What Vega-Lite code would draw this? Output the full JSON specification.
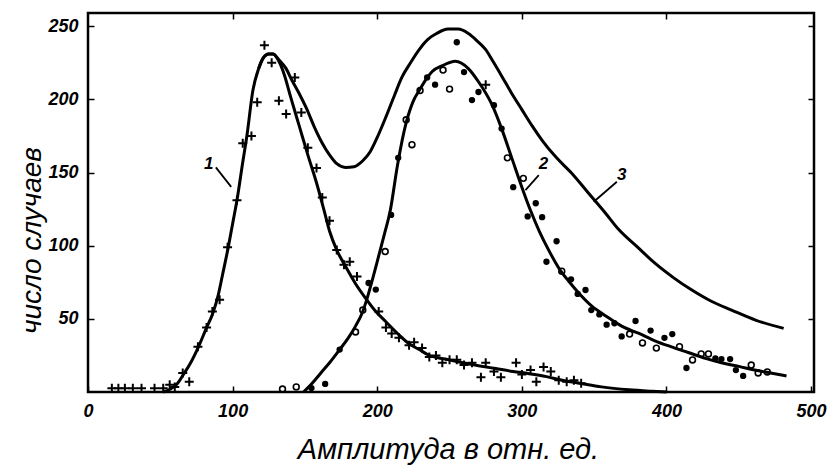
{
  "$schema": "https://vega.github.io/schema/vega-lite/v6.json",
  "width": 726,
  "height": 379,
  "autosize": {"type": "none"},
  "padding": {"left": 88, "top": 13, "right": 13, "bottom": 79},
  "background": "white",
  "config": {
    "view": {"stroke": "black", "strokeWidth": 2.5},
    "axis": {
      "domain": false, "grid": false,
      "tickColor": "black", "tickWidth": 1.5, "tickSize": -6,
      "labelColor": "black", "labelFont": "Liberation Sans", "labelFontSize": 18,
      "labelFontStyle": "italic", "labelFontWeight": "bold",
      "labelFlush": false, "labelOverlap": false,
      "titleColor": "black", "titleFont": "Liberation Sans", "titleFontStyle": "italic",
      "titleFontWeight": "normal", "titleFontSize": 29
    },
    "axisTop": {"labels": false},
    "axisRight": {"labels": false}
  },
  "datasets": {
    "curves": [
      {"s":"1","x":52,"y":0},{"s":"1","x":57,"y":2},{"s":"1","x":62,"y":6},{"s":"1","x":66,"y":12},{"s":"1","x":71,"y":20},{"s":"1","x":76,"y":30},{"s":"1","x":82,"y":44},{"s":"1","x":86,"y":53},{"s":"1","x":90,"y":66},{"s":"1","x":93,"y":80},{"s":"1","x":97,"y":99},{"s":"1","x":100,"y":115},{"s":"1","x":103,"y":131},{"s":"1","x":107,"y":157},{"s":"1","x":110,"y":176},{"s":"1","x":114,"y":206},{"s":"1","x":118,"y":221},{"s":"1","x":121,"y":228},{"s":"1","x":125,"y":231},{"s":"1","x":128,"y":231},{"s":"1","x":132,"y":226},{"s":"1","x":136,"y":216},{"s":"1","x":140,"y":202},{"s":"1","x":146,"y":182},{"s":"1","x":152,"y":162},{"s":"1","x":158,"y":143},{"s":"1","x":163,"y":125},{"s":"1","x":167,"y":110},{"s":"1","x":172,"y":97},{"s":"1","x":178,"y":86},{"s":"1","x":185,"y":74},{"s":"1","x":192,"y":64},{"s":"1","x":199,"y":55},{"s":"1","x":206,"y":48},{"s":"1","x":214,"y":40},{"s":"1","x":222,"y":33},{"s":"1","x":229,"y":29},{"s":"1","x":236,"y":25},{"s":"1","x":247,"y":22.5},{"s":"1","x":259,"y":20},{"s":"1","x":270,"y":18},{"s":"1","x":282,"y":16},{"s":"1","x":294,"y":14},{"s":"1","x":305,"y":12.5},{"s":"1","x":317,"y":10.5},{"s":"1","x":328,"y":8},{"s":"1","x":340,"y":6},{"s":"1","x":355,"y":3.5},{"s":"1","x":374,"y":1.5},{"s":"1","x":390,"y":0.5},{"s":"1","x":400,"y":0},
      {"s":"2","x":149,"y":0},{"s":"2","x":155,"y":6},{"s":"2","x":161,"y":13},{"s":"2","x":167,"y":20},{"s":"2","x":174,"y":29},{"s":"2","x":180,"y":37},{"s":"2","x":185,"y":45},{"s":"2","x":190,"y":55},{"s":"2","x":193,"y":64},{"s":"2","x":197,"y":78},{"s":"2","x":201,"y":93},{"s":"2","x":205,"y":108},{"s":"2","x":209,"y":124},{"s":"2","x":214,"y":155},{"s":"2","x":220,"y":184},{"s":"2","x":225,"y":199},{"s":"2","x":229,"y":206},{"s":"2","x":234,"y":214},{"s":"2","x":238,"y":219},{"s":"2","x":245,"y":223},{"s":"2","x":254,"y":226},{"s":"2","x":263,"y":221},{"s":"2","x":270,"y":212},{"s":"2","x":279,"y":197},{"s":"2","x":286,"y":180},{"s":"2","x":293,"y":160},{"s":"2","x":300,"y":140},{"s":"2","x":306,"y":124},{"s":"2","x":312,"y":110},{"s":"2","x":318,"y":98},{"s":"2","x":326,"y":84},{"s":"2","x":333,"y":75},{"s":"2","x":339,"y":68},{"s":"2","x":348,"y":59},{"s":"2","x":358,"y":52},{"s":"2","x":369,"y":45},{"s":"2","x":381,"y":40},{"s":"2","x":392,"y":35},{"s":"2","x":403,"y":31},{"s":"2","x":415,"y":27},{"s":"2","x":427,"y":23},{"s":"2","x":438,"y":20},{"s":"2","x":450,"y":17.5},{"s":"2","x":461,"y":15},{"s":"2","x":472,"y":13},{"s":"2","x":483,"y":11},
      {"s":"3","x":118,"y":221},{"s":"3","x":121,"y":228},{"s":"3","x":125,"y":231},{"s":"3","x":128,"y":231},{"s":"3","x":132,"y":227},{"s":"3","x":137,"y":221},{"s":"3","x":141,"y":213},{"s":"3","x":146,"y":204},{"s":"3","x":151,"y":194},{"s":"3","x":157,"y":180},{"s":"3","x":162,"y":170},{"s":"3","x":167,"y":162},{"s":"3","x":172,"y":156},{"s":"3","x":178,"y":153.5},{"s":"3","x":184,"y":154},{"s":"3","x":190,"y":158},{"s":"3","x":195,"y":164},{"s":"3","x":200,"y":174},{"s":"3","x":206,"y":188},{"s":"3","x":212,"y":203},{"s":"3","x":217,"y":215},{"s":"3","x":223,"y":225},{"s":"3","x":229,"y":234},{"s":"3","x":235,"y":241},{"s":"3","x":241,"y":245},{"s":"3","x":249,"y":248},{"s":"3","x":256,"y":248},{"s":"3","x":263,"y":245},{"s":"3","x":269,"y":240},{"s":"3","x":275,"y":234},{"s":"3","x":280,"y":226},{"s":"3","x":286,"y":216},{"s":"3","x":293,"y":204},{"s":"3","x":300,"y":193},{"s":"3","x":307,"y":182},{"s":"3","x":314,"y":172},{"s":"3","x":324,"y":160},{"s":"3","x":334,"y":150},{"s":"3","x":346,"y":136},{"s":"3","x":358,"y":122},{"s":"3","x":367,"y":111},{"s":"3","x":380,"y":99},{"s":"3","x":392,"y":88},{"s":"3","x":405,"y":78},{"s":"3","x":417,"y":70},{"s":"3","x":431,"y":62},{"s":"3","x":445,"y":56},{"s":"3","x":462,"y":49},{"s":"3","x":481,"y":43.5}
    ],
    "crosses": [
      {"x":16.5,"y":2.5},{"x":21,"y":2.5},{"x":25.5,"y":2.5},{"x":31,"y":2.5},{"x":37,"y":2.5},{"x":46,"y":2.5},{"x":52,"y":2.5},{"x":56.5,"y":5},{"x":60,"y":3.5},{"x":65.5,"y":13},{"x":70,"y":7},{"x":76,"y":31},{"x":82,"y":44},{"x":86,"y":55},{"x":91,"y":63},{"x":96.5,"y":99},{"x":103,"y":131},{"x":107,"y":170},{"x":113,"y":175},{"x":117,"y":198},{"x":122,"y":237},{"x":127,"y":225},{"x":132,"y":199},{"x":137,"y":190},{"x":143,"y":215},{"x":147.5,"y":191},{"x":152,"y":167},{"x":158,"y":153},{"x":162,"y":133},{"x":167,"y":117},{"x":172,"y":97},{"x":177,"y":87},{"x":181,"y":89},{"x":186,"y":79},{"x":201,"y":55},{"x":206,"y":44},{"x":210,"y":40},{"x":215,"y":37},{"x":222,"y":32},{"x":225.5,"y":34},{"x":231,"y":30},{"x":236,"y":24},{"x":240.6,"y":25},{"x":245,"y":20},{"x":250,"y":22},{"x":255,"y":22},{"x":260,"y":18.4},{"x":265.5,"y":20},{"x":271.7,"y":10},{"x":275,"y":20},{"x":280.7,"y":14},{"x":285.5,"y":10},{"x":296,"y":20},{"x":300,"y":12},{"x":306,"y":15},{"x":310,"y":7},{"x":315,"y":17},{"x":320,"y":14},{"x":325.5,"y":8},{"x":331,"y":7},{"x":336,"y":8},{"x":341,"y":6},{"x":275,"y":210}
    ],
    "open": [
      {"x":134.5,"y":2},{"x":144,"y":3.5},{"x":185,"y":41},{"x":190,"y":56},{"x":205.5,"y":96},{"x":220,"y":186},{"x":224,"y":169},{"x":229.6,"y":206},{"x":245.5,"y":220},{"x":250,"y":207},{"x":290,"y":160},{"x":301,"y":146},{"x":327.6,"y":82.6},{"x":374.5,"y":39.6},{"x":383.4,"y":33.5},{"x":393,"y":30},{"x":409,"y":31},{"x":418,"y":21.9},{"x":424,"y":26},{"x":429,"y":26},{"x":458.6,"y":18.4},{"x":463.4,"y":13},{"x":469.7,"y":13.7}
    ],
    "filled": [
      {"x":154.5,"y":2.7},{"x":164,"y":5.5},{"x":174,"y":29},{"x":194,"y":74.5},{"x":199,"y":70},{"x":209.6,"y":121},{"x":214.5,"y":160},{"x":234.5,"y":215},{"x":240,"y":210},{"x":255,"y":239},{"x":260,"y":218.6},{"x":265.5,"y":199.5},{"x":270,"y":205},{"x":280.7,"y":196},{"x":286,"y":180},{"x":294,"y":140},{"x":304,"y":120},{"x":309.6,"y":129},{"x":314,"y":119.5},{"x":317,"y":89},{"x":324,"y":103},{"x":334,"y":77},{"x":338.6,"y":67},{"x":344,"y":69.7},{"x":348,"y":56},{"x":353.6,"y":53},{"x":358.6,"y":46},{"x":364,"y":47},{"x":369,"y":38},{"x":378.6,"y":48.5},{"x":389,"y":42},{"x":398.6,"y":37},{"x":404,"y":39.6},{"x":413.8,"y":16.4},{"x":433.8,"y":23},{"x":438,"y":22.5},{"x":444,"y":22.5},{"x":448,"y":15},{"x":453,"y":11}
    ],
    "leaders": [
      {"x":88.4,"y":153.5,"x2":99,"y2":140.2},
      {"x":311.7,"y":148.2,"x2":302.5,"y2":138},
      {"x":365.7,"y":143.7,"x2":349.7,"y2":130}
    ],
    "labels": [
      {"x":83.5,"y":156,"t":"1"},
      {"x":315,"y":156,"t":"2"},
      {"x":369,"y":148,"t":"3"}
    ]
  },
  "layer": [
    {
      "data": {"name": "curves"},
      "mark": {"type": "line", "color": "black", "strokeWidth": 3, "interpolate": "monotone"},
      "encoding": {
        "x": {"field": "x", "type": "quantitative", "scale": {"domain": [0, 502], "nice": false, "zero": false},
          "axis": {"orient": "bottom", "values": [0, 100, 200, 300, 400, 500], "title": "Амплитуда в отн. ед.", "labelPadding": 16, "titleX": 360, "titleY": 66, "titleAlign": "center", "titleBaseline": "alphabetic", "titleAnchor": null}},
        "y": {"field": "y", "type": "quantitative", "scale": {"domain": [0, 259], "nice": false, "zero": false},
          "axis": {"orient": "left", "values": [50, 100, 150, 200, 250], "title": "число случаев", "labelPadding": 16, "titleFontSize": 28, "titleX": -56, "titleY": 227, "titleAngle": -90, "titleAlign": "center", "titleBaseline": "middle", "titleAnchor": null}},
        "detail": {"field": "s", "type": "nominal"}
      }
    },
    {
      "data": {"name": "crosses"},
      "mark": {"type": "point", "shape": "M-1,0L1,0M0,-1L0,1", "filled": false, "stroke": "black", "strokeWidth": 2, "size": 81, "opacity": 1},
      "encoding": {
        "x": {"field": "x", "type": "quantitative", "scale": {"domain": [0, 502], "nice": false, "zero": false}, "axis": null},
        "y": {"field": "y", "type": "quantitative", "scale": {"domain": [0, 259], "nice": false, "zero": false}, "axis": null}
      }
    },
    {
      "data": {"name": "open"},
      "mark": {"type": "point", "shape": "circle", "filled": false, "stroke": "black", "strokeWidth": 1.6, "size": 34, "opacity": 1},
      "encoding": {
        "x": {"field": "x", "type": "quantitative", "scale": {"domain": [0, 502], "nice": false, "zero": false}, "axis": null},
        "y": {"field": "y", "type": "quantitative", "scale": {"domain": [0, 259], "nice": false, "zero": false}, "axis": null}
      }
    },
    {
      "data": {"name": "filled"},
      "mark": {"type": "point", "shape": "circle", "filled": true, "color": "black", "size": 40, "opacity": 1},
      "encoding": {
        "x": {"field": "x", "type": "quantitative", "scale": {"domain": [0, 502], "nice": false, "zero": false}, "axis": null},
        "y": {"field": "y", "type": "quantitative", "scale": {"domain": [0, 259], "nice": false, "zero": false}, "axis": null}
      }
    },
    {
      "data": {"name": "leaders"},
      "mark": {"type": "rule", "color": "black", "strokeWidth": 1.8},
      "encoding": {
        "x": {"field": "x", "type": "quantitative", "scale": {"domain": [0, 502], "nice": false, "zero": false}, "axis": null},
        "y": {"field": "y", "type": "quantitative", "scale": {"domain": [0, 259], "nice": false, "zero": false}, "axis": null},
        "x2": {"field": "x2"},
        "y2": {"field": "y2"}
      }
    },
    {
      "data": {"name": "labels"},
      "mark": {"type": "text", "font": "Liberation Sans", "fontSize": 17, "fontStyle": "italic", "fontWeight": "bold", "color": "black", "align": "center", "baseline": "middle"},
      "encoding": {
        "x": {"field": "x", "type": "quantitative", "scale": {"domain": [0, 502], "nice": false, "zero": false}, "axis": null},
        "y": {"field": "y", "type": "quantitative", "scale": {"domain": [0, 259], "nice": false, "zero": false}, "axis": null},
        "text": {"field": "t", "type": "nominal"}
      }
    },
    {
      "data": {"values": [{"x": 0, "y": 0}]},
      "mark": {"type": "point", "opacity": 0},
      "encoding": {
        "x": {"field": "x", "type": "quantitative", "scale": {"domain": [0, 502], "nice": false, "zero": false},
          "axis": {"orient": "top", "values": [100, 200, 300, 400], "title": null, "labels": false}},
        "y": {"field": "y", "type": "quantitative", "scale": {"domain": [0, 259], "nice": false, "zero": false},
          "axis": {"orient": "right", "values": [50, 100, 150, 200, 250], "title": null, "labels": false}}
      }
    }
  ],
  "resolve": {"axis": {"x": "independent", "y": "independent"}}
}
